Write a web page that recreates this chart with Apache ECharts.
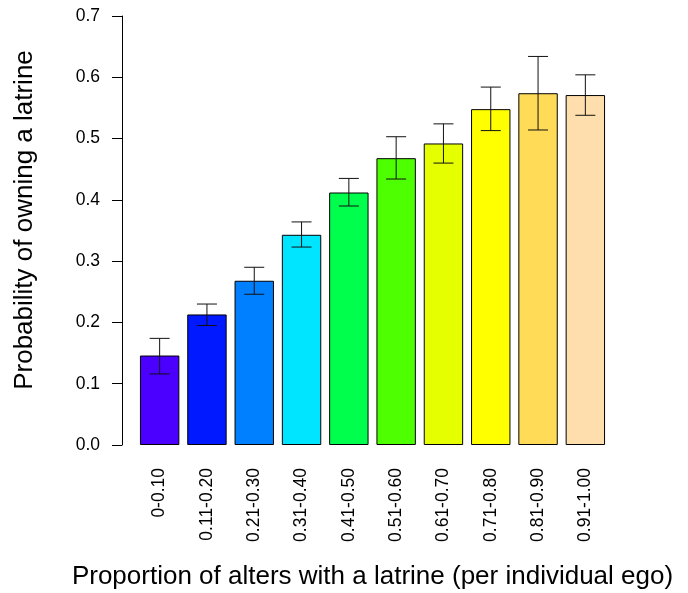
<!DOCTYPE html>
<html>
<head>
<meta charset="utf-8">
<script src="https://cdn.jsdelivr.net/npm/echarts@6/dist/echarts.min.js"></script>
<style>html,body{margin:0;padding:0;background:#fff;}#c{width:688px;height:593px;}</style>
</head>
<body>
<div id="c"></div>
<script>
const categories = ['0-0.10','0.11-0.20','0.21-0.30','0.31-0.40','0.41-0.50','0.51-0.60','0.61-0.70','0.71-0.80','0.81-0.90','0.91-1.00'];
const probability = [0.146, 0.213, 0.268, 0.343, 0.412, 0.468, 0.492, 0.548, 0.574, 0.571];
const errLow = [0.116, 0.195, 0.246, 0.323, 0.390, 0.434, 0.460, 0.513, 0.514, 0.538];
const errHigh = [0.174, 0.230, 0.290, 0.364, 0.435, 0.503, 0.524, 0.584, 0.634, 0.604];
const barColors = ['#4B00FF','#0019FF','#0080FF','#00E5FF','#00FF4D','#4DFF00','#E6FF00','#FFFF00','#FFDB58','#FFDEAD'];
const yTicks = [0, 0.1, 0.2, 0.3, 0.4, 0.5, 0.6, 0.7];

const font = 'Liberation Sans, Arial, sans-serif';
const chart = echarts.init(document.getElementById('c'), null, {renderer: 'canvas'});
chart.setOption({
  animation: false,
  backgroundColor: '#fff',
  grid: {left: 136, top: 16, width: 473, height: 429, containLabel: false, outerBoundsMode: 'none'},
  xAxis: {
    type: 'category',
    data: categories,
    axisLine: {show: false},
    axisTick: {show: false},
    axisLabel: {rotate: 90, margin: 23, fontSize: 17.5, color: '#000', fontFamily: font, interval: 0},
    name: 'Proportion of alters with a latrine (per individual ego)',
    nameLocation: 'middle',
    nameGap: 119,
    nameTextStyle: {fontSize: 26, color: '#000', fontFamily: font}
  },
  yAxis: {
    type: 'value',
    min: yTicks[0],
    max: yTicks[yTicks.length - 1],
    interval: 0.1,
    offset: 14,
    splitLine: {show: false},
    axisLine: {show: true, lineStyle: {color: '#000', width: 1}},
    axisTick: {show: true, length: 10, lineStyle: {color: '#000', width: 1}},
    axisLabel: {margin: 22, fontSize: 17.5, color: '#000', fontFamily: font, formatter: v => v.toFixed(1)}
  },
  graphic: [{
    type: 'text',
    x: 25, y: 220,
    rotation: Math.PI / 2,
    style: {text: 'Probability of owning a latrine', fill: '#000', font: '26px ' + font, align: 'center', verticalAlign: 'middle'}
  }],
  series: [{
    type: 'bar',
    barCategoryGap: '16.7%',
    data: probability.map((v, i) => ({value: v, itemStyle: {color: barColors[i]}})),
    itemStyle: {borderColor: '#000', borderWidth: 1}
  }, {
    type: 'custom',
    data: categories.map((c, i) => [i, errLow[i], errHigh[i]]),
    renderItem: function (params, api) {
      const i = api.value(0);
      const lo = api.coord([i, api.value(1)]);
      const hi = api.coord([i, api.value(2)]);
      const hw = 10;
      const st = {stroke: '#111', lineWidth: 1};
      return {type: 'group', children: [
        {type: 'line', shape: {x1: lo[0], y1: lo[1], x2: hi[0], y2: hi[1]}, style: st},
        {type: 'line', shape: {x1: lo[0] - hw, y1: lo[1], x2: lo[0] + hw, y2: lo[1]}, style: st},
        {type: 'line', shape: {x1: hi[0] - hw, y1: hi[1], x2: hi[0] + hw, y2: hi[1]}, style: st}
      ]};
    },
    z: 10
  }]
});
</script>
</body>
</html>
